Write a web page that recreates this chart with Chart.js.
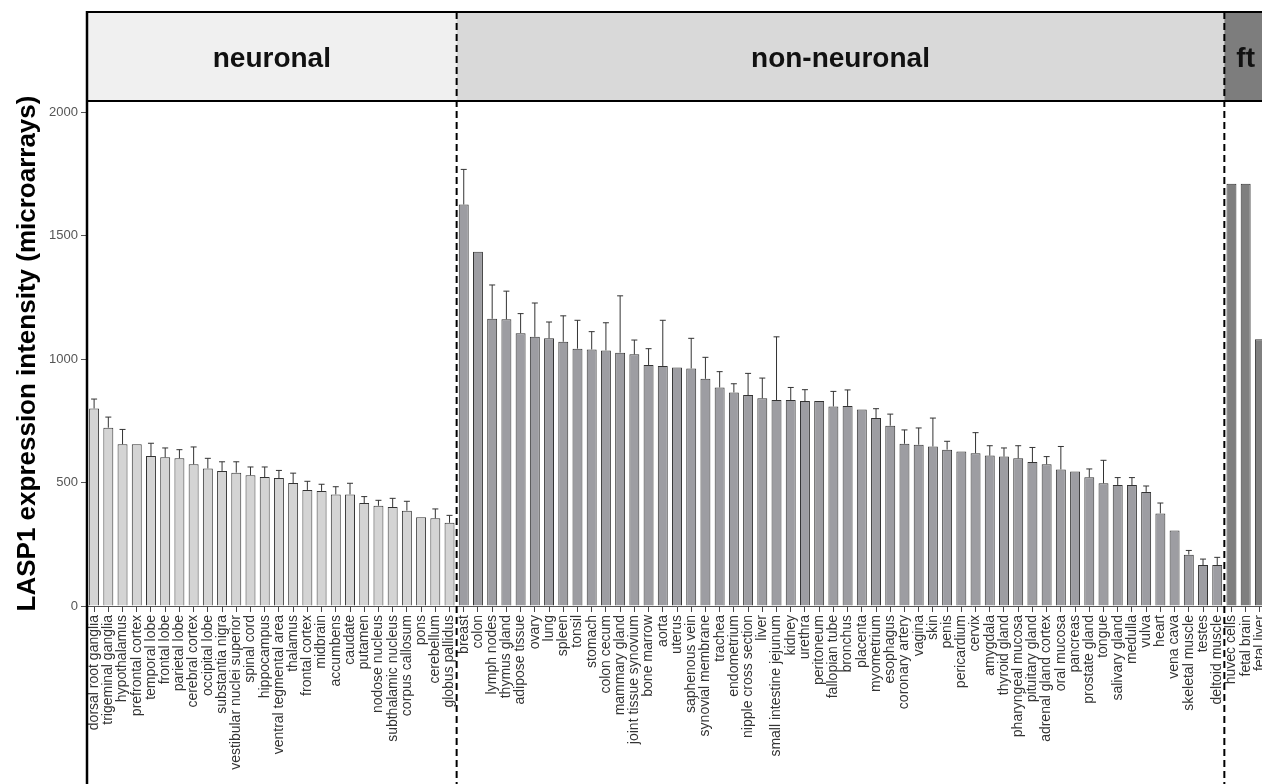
<!DOCTYPE html>
<html>
<head>
<meta charset="utf-8">
<script src="https://cdn.jsdelivr.net/npm/chart.js@4.4.1/dist/chart.umd.min.js"></script>
<style>
  html, body { margin: 0; padding: 0; background: #fff; overflow: hidden; }
  #wrap { width: 1280px; height: 784px; }
</style>
</head>
<body>
<div id="wrap"><canvas id="chart" width="1280" height="784"></canvas></div>
<script>
// tissue groups, values
const neuronalLabels = ["dorsal root ganglia", "trigeminal ganglia", "hypothalamus", "prefrontal cortex", "temporal lobe",
  "frontal lobe", "parietal lobe", "cerebral cortex", "occipital lobe", "substantia nigra", "vestibular nuclei superior",
  "spinal cord", "hippocampus", "ventral tegmental area", "thalamus", "frontal cortex", "midbrain", "accumbens", "caudate",
  "putamen", "nodose nucleus", "subthalamic nucleus", "corpus callosum", "pons", "cerebellum", "globus pallidus"];
const neuronalValues = [800, 722, 655, 655, 607, 602, 598, 574, 557, 547, 540, 529, 522, 518, 498, 470, 466, 452, 452,
  417, 406, 401, 386, 359, 355, 337];
const neuronalErrors = [38, 43, 60, null, 52, 38, 35, 70, 41, 37, 44, 34, 41, 31, 40, 35, 27, 31, 45,
  26, 22, 35, 38, null, 38, 30];

const nonNeuronalLabels = ["breast", "colon", "lymph nodes", "thymus gland", "adipose tissue", "ovary", "lung", "spleen",
  "tonsil", "stomach", "colon cecum", "mammary gland", "joint tissue synovium", "bone marrow", "aorta", "uterus",
  "saphenous vein", "synovial membrane", "trachea", "endometrium", "nipple cross section", "liver",
  "small intestine jejunum", "kidney", "urethra", "peritoneum", "fallopian tube", "bronchus", "placenta", "myometrium",
  "esophagus", "coronary artery", "vagina", "skin", "penis", "pericardium", "cervix", "amygdala", "thyroid gland",
  "pharyngeal mucosa", "pituitary gland", "adrenal gland cortex", "oral mucosa", "pancreas", "prostate gland", "tongue",
  "salivary gland", "medulla", "vulva", "heart", "vena cava", "skeletal muscle", "testes", "deltoid muscle"];
const nonNeuronalValues = [1626, 1435, 1163, 1161, 1105, 1090, 1084, 1070, 1042, 1039, 1035, 1026, 1019, 976, 972, 966,
  962, 920, 885, 865, 854, 841, 834, 834, 830, 830, 808, 810, 796, 761, 730, 657, 653, 646, 633, 626, 619, 609, 605,
  598, 583, 574, 553, 545, 521, 497, 490, 490, 462, 375, 306, 208, 166, 166];
const nonNeuronalErrors = [142, null, 137, 114, 79, 137, 66, 105, 115, 72, 112, 230, 58, 66, 185, null,
  122, 87, 64, 35, 88, 82, 256, 51, 46, null, 61, 65, null, 38, 47, 56, 68, 115, 34, null, 83, 40, 35,
  51, 59, 31, 93, null, 34, 93, 30, 30, 24, 42, null, 17, 24, 31];

const fetalLabels = ["huvec cells", "fetal brain", "fetal liver"];
const fetalValues = [1710, 1710, 1080];
const fetalErrors = [null, null, null];

const groupNames = ["neuronal", "non-neuronal", "ft"];
const yTicks = [0, 500, 1000, 1500, 2000];

const labels = neuronalLabels.concat(nonNeuronalLabels, fetalLabels);
const values = neuronalValues.concat(nonNeuronalValues, fetalValues);
const errors = neuronalErrors.concat(nonNeuronalErrors, fetalErrors);
const barColors = neuronalValues.map(() => "#d4d4d4")
  .concat(nonNeuronalValues.map(() => "#9d9da2"), fetalValues.map(() => "#7f7f7f"));

const FONT = "'Liberation Sans', Arial, sans-serif";

const errorBars = {
  id: "errorBars",
  afterDatasetsDraw(chart) {
    const meta = chart.getDatasetMeta(0);
    const y = chart.scales.y;
    const ctx = chart.ctx;
    ctx.save();
    ctx.strokeStyle = "#333";
    ctx.lineWidth = 1;
    meta.data.forEach((bar, i) => {
      if (errors[i] == null) return;
      const top = y.getPixelForValue(values[i]);
      const end = y.getPixelForValue(values[i] + errors[i]);
      ctx.beginPath();
      ctx.moveTo(bar.x, top);
      ctx.lineTo(bar.x, end);
      ctx.moveTo(bar.x - 3, end);
      ctx.lineTo(bar.x + 3, end);
      ctx.stroke();
    });
    ctx.restore();
  }
};

const groupBand = {
  id: "groupBand",
  afterDraw(chart) {
    const ctx = chart.ctx;
    const x = chart.scales.x;
    const area = chart.chartArea;
    const bandTop = 12;
    const bandBottom = area.top;
    const n1 = neuronalLabels.length;
    const n2 = n1 + nonNeuronalLabels.length;
    const b1 = (x.getPixelForValue(n1 - 1) + x.getPixelForValue(n1)) / 2;
    const b2 = (x.getPixelForValue(n2 - 1) + x.getPixelForValue(n2)) / 2;
    const edges = [area.left, b1, b2, area.right];
    const fills = ["#f0f0f0", "#d9d9d9", "#7d7d7d"];

    ctx.save();
    for (let i = 0; i < 3; i++) {
      ctx.fillStyle = fills[i];
      ctx.fillRect(edges[i], bandTop, edges[i + 1] - edges[i], bandBottom - bandTop);
    }
    ctx.fillStyle = "#111";
    ctx.font = "bold 28px " + FONT;
    ctx.textAlign = "center";
    ctx.textBaseline = "alphabetic";
    for (let i = 0; i < 3; i++) {
      ctx.fillText(groupNames[i], (edges[i] + edges[i + 1]) / 2, 67);
    }

    ctx.strokeStyle = "#000";
    ctx.lineWidth = 2;
    ctx.beginPath();
    ctx.moveTo(area.left, bandTop);
    ctx.lineTo(chart.width, bandTop);
    ctx.moveTo(area.left, bandBottom);
    ctx.lineTo(chart.width, bandBottom);
    ctx.stroke();

    // left axis line runs through the band and the label area
    ctx.lineWidth = 2.5;
    ctx.beginPath();
    ctx.moveTo(area.left, bandTop - 1);
    ctx.lineTo(area.left, chart.height);
    ctx.stroke();

    ctx.lineWidth = 2;
    ctx.setLineDash([7, 4]);
    [b1, b2].forEach(bx => {
      ctx.beginPath();
      ctx.moveTo(bx, bandTop);
      ctx.lineTo(bx, chart.height);
      ctx.stroke();
    });
    ctx.restore();
  }
};

const ctx = document.getElementById("chart").getContext("2d");
const chart = new Chart(ctx, {
  type: "bar",
  data: {
    labels: labels,
    datasets: [{
      label: "LASP1",
      data: values,
      backgroundColor: barColors,
      borderColor: "#333",
      borderWidth: 1,
      barPercentage: 0.7,
      categoryPercentage: 1.0
    }]
  },
  options: {
    responsive: false,
    animation: false,
    layout: { padding: { top: 101, right: 13, left: 0, bottom: 0 } },
    plugins: { legend: { display: false }, tooltip: { enabled: false } },
    scales: {
      x: {
        afterFit: scale => { scale.height = 178; },
        grid: { display: true, drawOnChartArea: false, offset: false, tickLength: 6, color: "#444" },
        border: { display: true, color: "#555", width: 1 },
        ticks: {
          autoSkip: false,
          minRotation: 90,
          maxRotation: 90,
          padding: 3,
          color: "#333",
          font: { family: FONT, size: 14 }
        }
      },
      y: {
        min: 0,
        max: 2045,
        afterFit: scale => { scale.width = 87; },
        afterBuildTicks: scale => { scale.ticks = yTicks.map(v => ({ value: v })); },
        grid: { display: true, drawOnChartArea: false, tickLength: 6, color: "#555" },
        border: { display: false },
        ticks: {
          color: "#555",
          padding: 3,
          font: { family: FONT, size: 13 },
          callback: value => String(value)
        },
        title: {
          display: true,
          text: "LASP1 expression intensity (microarrays)",
          color: "#000",
          padding: { top: 15, bottom: 0 },
          font: { family: FONT, size: 26, weight: "bold", lineHeight: 1 }
        }
      }
    }
  },
  plugins: [errorBars, groupBand]
});
</script>
</body>
</html>
